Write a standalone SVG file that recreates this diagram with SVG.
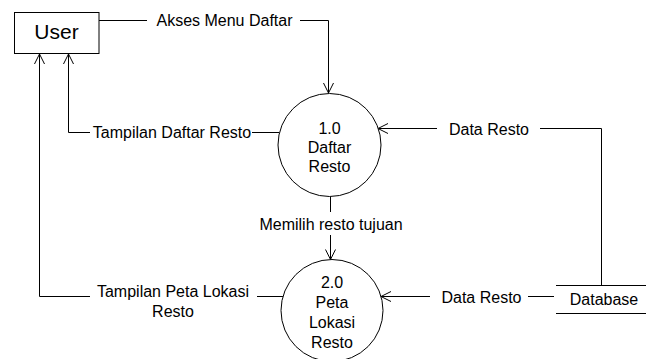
<svg xmlns="http://www.w3.org/2000/svg" width="655" height="359" viewBox="0 0 655 359">
<style>
text{font-family:"Liberation Sans",Arial,sans-serif;font-size:16px;fill:#000;text-anchor:middle}
.ln{fill:none;stroke:#000;stroke-width:1}
.nd{fill:#fff;stroke:#000;stroke-width:1}
</style>
<defs>
<marker id="ah" markerWidth="12" markerHeight="12" refX="10" refY="5" orient="auto" markerUnits="userSpaceOnUse" overflow="visible">
<path d="M0,0 L10,5 L0,10" fill="none" stroke="#000" stroke-width="1"/>
</marker>
</defs>
<g id="connectors">
<path class="ln" d="M99,20.5 H147"/>
<path class="ln" d="M300,20.5 H328.5 V93" marker-end="url(#ah)"/>
<text x="224.5" y="25.5">Akses Menu Daftar</text>
<path class="ln" d="M252,132.5 H279"/>
<path class="ln" d="M90,132.5 H68.5 V54" marker-end="url(#ah)"/>
<text x="172" y="138">Tampilan Daftar Resto</text>
<path class="ln" d="M601.5,285 V128.5 H540"/>
<path class="ln" d="M437,128.5 H378" marker-end="url(#ah)"/>
<text x="489" y="134.5">Data Resto</text>
<path class="ln" d="M330.5,197 V212"/>
<path class="ln" d="M330.5,235 V259.5" marker-end="url(#ah)"/>
<text x="331" y="230">Memilih resto tujuan</text>
<path class="ln" d="M90,296.5 H39.5 V54" marker-end="url(#ah)"/>
<path class="ln" d="M257,296.5 H283"/>
<text x="173" y="297">Tampilan Peta Lokasi</text>
<text x="173" y="316.5">Resto</text>
<path class="ln" d="M554,296.5 H528"/>
<path class="ln" d="M430,296.5 H381" marker-end="url(#ah)"/>
<text x="481.5" y="303">Data Resto</text>
</g>
<g id="user">
<rect class="nd" x="14.5" y="12.5" width="84.5" height="41"/>
<text x="56.5" y="38.5" style="font-size:21px">User</text>
</g>
<g id="p1">
<circle class="nd" cx="329.5" cy="145" r="51.5"/>
<text x="329.5" y="134">1.0</text>
<text x="329.5" y="153">Daftar</text>
<text x="329.5" y="172">Resto</text>
</g>
<g id="p2">
<circle class="nd" cx="332" cy="310.5" r="51"/>
<text x="332" y="287.5">2.0</text>
<text x="332" y="307.5">Peta</text>
<text x="332" y="327.5">Lokasi</text>
<text x="332" y="347.5">Resto</text>
</g>
<g id="database">
<path class="ln" d="M556,285.5 H646 M556,313.5 H646"/>
<text x="604" y="305">Database</text>
</g>
</svg>
